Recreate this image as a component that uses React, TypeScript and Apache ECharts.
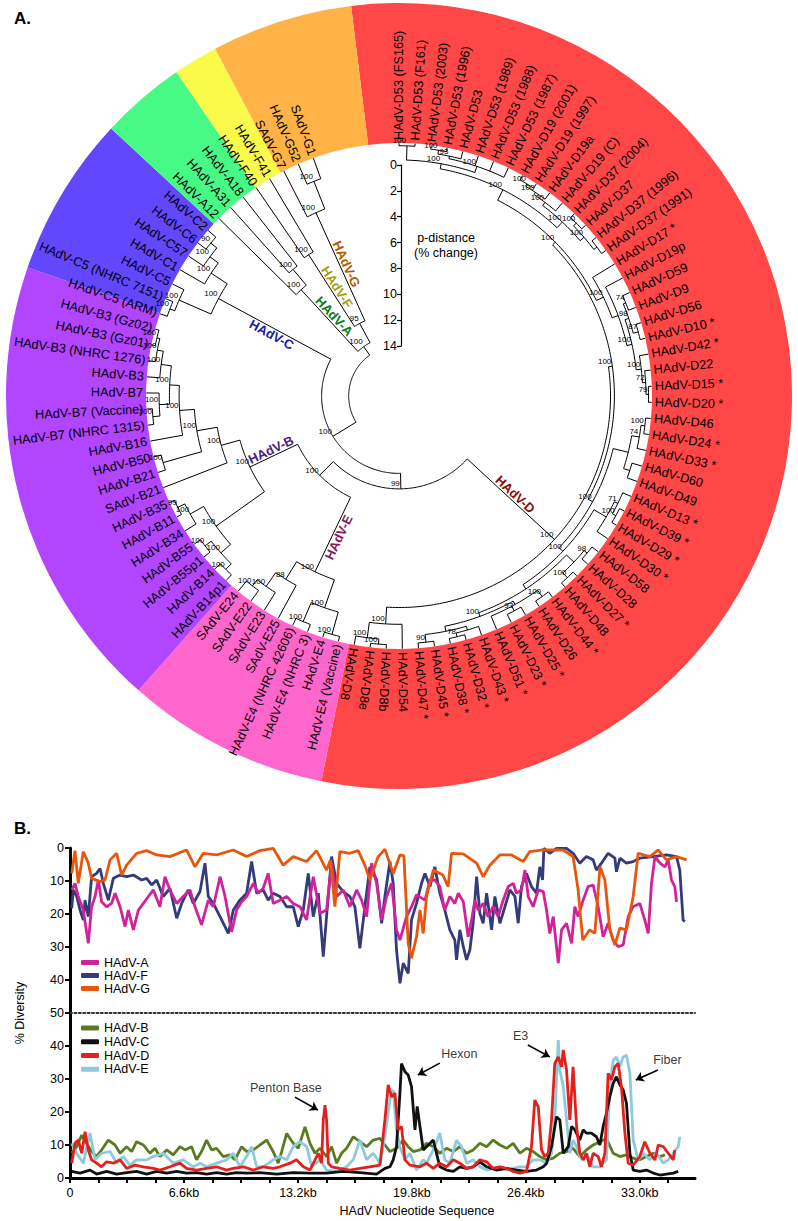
import React, { useEffect, useRef } from 'react';
import * as echarts from 'echarts';

const FONT = "'Liberation Sans', Arial, Helvetica, sans-serif";

// ================= Panel A data =================
const SECTOR_NAMES = ['Species D', 'Species E', 'Species B', 'Species C', 'Species A', 'Species F', 'Species G'];
const SECTOR_SPANS = [198.4, 30.1, 67.6, 23.8, 12.6, 6.6, 20.9]; // degrees of the coloured ring
const SECTOR_COLORS = ['#FF4747', '#FF66CC', '#B245FF', '#6347FF', '#47FA86', '#FAFA4A', '#FFB347'];
const SECTOR_START = 97;

const LEAF_ARC = 340.2; // degrees covered by the 94 tips
const TIP = 19.6;       // tip radius (p-distance units from centre)
const LABEL_R = 19.85;
const R_MAX = 30.47;

const SCALE_TICKS_MAX = 14;

type Tree = { h: number; b: number | null; kids: (Tree | string)[]; clade?: string };
const T = (h: number, b: number | null, kids: (Tree | string)[], clade?: string): Tree => ({ h, b, kids, clade });

const D_UPPER = T(17.0, 100, [
  T(17.9, 100, [
    T(18.3, 100, [
      T(19.4, 100, ['HAdV-D53 (FS165)', 'HAdV-D53 (F161)']),
      T(18.8, 100, [
        T(19.0, 93, [T(19.3, 100, ['HAdV-D53 (2003)', 'HAdV-D53 (1996)']), 'HAdV-D53']),
        'HAdV-D53 (1989)', 'HAdV-D53 (1988)', 'HAdV-D53 (1987)',
      ]),
    ]),
    T(18.5, 100, [
      T(18.8, 100, [T(19.0, 100, [T(19.2, 100, ['HAdV-D19 (2001)', 'HAdV-D19 (1997)']), 'HAdV-D19a']), 'HAdV-D19 (C)']),
      T(18.9, 100, [T(19.2, 100, ['HAdV-D37 (2004)', 'HAdV-D37']), T(19.2, null, ['HAdV-D37 (1996)', 'HAdV-D37 (1991)'])]),
    ]),
  ]),
  T(17.6, 100, ['HAdV-D17 *', T(18.1, null, ['HAdV-D19p',
    T(18.5, 100, [
      T(18.8, 98, [T(19.0, 74, ['HAdV-D59', 'HAdV-D9']), T(19.2, 87, ['HAdV-D56', 'HAdV-D10 *'])]),
      T(18.9, 100, ['HAdV-D42 *', T(19.15, 72, ['HAdV-D22', T(19.35, 79, ['HAdV-D15 *', 'HAdV-D20 *'])])]),
    ]),
  ])]),
]);

const D_LOWER = T(17.1, 100, [
  T(18.3, null, [
    T(18.9, 74, [T(19.2, 100, ['HAdV-D46', 'HAdV-D24 *']), 'HAdV-D33 *']),
    T(18.8, null, ['HAdV-D60', 'HAdV-D49']),
  ]),
  T(17.5, 100, [
    T(18.6, null, [T(18.9, 71, ['HAdV-D13 *', T(19.2, 100, ['HAdV-D39 *', 'HAdV-D29 *'])]), 'HAdV-D30 *']),
    T(17.9, null, [
      T(18.7, null, [T(19.0, 98, ['HAdV-D58', 'HAdV-D28']), T(19.2, 100, ['HAdV-D27 *', 'HAdV-D48'])]),
      T(18.2, 100, [
        T(18.5, null, [T(19.1, 100, ['HAdV-D44 *', 'HAdV-D26']), T(18.9, 93, ['HAdV-D25 *', 'HAdV-D23 *']), 'HAdV-D51 *']),
        T(18.6, null, [T(18.9, null, ['HAdV-D43 *', T(19.2, 78, ['HAdV-D32 *', 'HAdV-D38 *'])]), T(19.2, 90, ['HAdV-D45 *', 'HAdV-D47 *'])]),
      ]),
    ]),
  ]),
]);

const D_8 = T(17.7, 100, ['HAdV-D54', T(18.9, 100, [T(19.3, 100, ['HAdV-D8b', 'HAdV-D8e']), 'HAdV-D8'])]);
const D_TREE = T(16.4, 100, [T(16.7, 100, [D_UPPER, D_LOWER]), D_8], 'HAdV-D');

const E_TREE = T(15.1, 100, [
  T(17.4, 100, [T(19.2, 100, ['HAdV-E4 (Vaccine)', 'HAdV-E4']), T(19.0, 100, ['HAdV-E4 (NHRC 3)', 'HAdV-E4 (NHRC 42606)'])]),
  T(16.7, 88, ['SAdV-E25', T(18.0, 100, ['SAdV-E23', T(18.6, 100, ['SAdV-E22', 'SAdV-E24'])])]),
], 'HAdV-E');

const B_TREE = T(12.8, 100, [
  T(17.4, 100, [
    T(18.4, 100, [T(19.0, 100, ['HAdV-B14p1', 'HAdV-B14']), T(19.0, 100, ['HAdV-B55p1', 'HAdV-B55'])]),
    T(18.6, 100, ['HAdV-B34', T(19.2, 99, ['HAdV-B11', 'HAdV-B35'])]),
  ]),
  T(14.3, 100, ['SAdV-B21', T(15.9, 100, [
    T(19.0, 100, ['HAdV-B21', 'HAdV-B50']),
    T(17.05, 100, ['HAdV-B16', T(17.8, 100, [
      T(18.6, 100, [T(19.15, 100, ['HAdV-B7 (NHRC 1315)', 'HAdV-B7 (Vaccine)']), 'HAdV-B7']),
      T(18.6, 100, ['HAdV-B3', T(19.07, 100, ['HAdV-B3 (NHRC 1276)', T(19.3, 100, ['HAdV-B3 (Gz01)', 'HAdV-B3 (Gz02)'])])]),
    ])]),
  ])]),
], 'HAdV-B');

const C_TREE = T(15.9, 100, [
  T(18.6, 100, [T(19.0, 100, ['HAdV-C5 (ARM)', 'HAdV-C5 (NHRC 7151)']), 'HAdV-C5']),
  T(17.4, 100, ['HAdV-C1', T(18.2, 100, ['HAdV-C57', T(18.8, 90, ['HAdV-C6', 'HAdV-C2'])])]),
], 'HAdV-C');

const A_TREE = T(11.2, 100, ['HAdV-A12', T(12.8, 100, ['HAdV-A31', 'HAdV-A18'])], 'HAdV-A');
const F_TREE = T(13.0, 100, ['HAdV-F40', 'HAdV-F41'], 'HAdV-F');
const G_TREE = T(15.6, 100, ['SAdV-G7', T(17.9, 100, ['HAdV-G52', 'SAdV-G1'])], 'HAdV-G');

const ROOT = T(3.9, null, [
  T(6.0, 100, [T(7.2, 99, [D_TREE, T(8.7, 100, [E_TREE, B_TREE])]), C_TREE]),
  T(4.7, 100, [A_TREE, T(6.4, 95, [F_TREE, G_TREE])]),
]);

const CLADE_STYLE: Record<string, { color: string; side: string }> = {
  'HAdV-D': { color: '#8B0A0A', side: 'bottom' },
  'HAdV-E': { color: '#8A1A5A', side: 'top' },
  'HAdV-B': { color: '#4E1A8A', side: 'bottom' },
  'HAdV-C': { color: '#1A1AA8', side: 'top' },
  'HAdV-A': { color: '#0F7A22', side: 'bottom' },
  'HAdV-F': { color: '#A3A010', side: 'bottom' },
  'HAdV-G': { color: '#B25A00', side: 'bottom' },
};

// ================= Panel B data =================
const X_TICKS = [0, 1.65, 3.3, 4.95, 6.6, 8.25, 9.9, 11.55, 13.2, 14.85, 16.5, 18.15, 19.8, 21.45, 23.1, 24.75, 26.4, 28.05, 29.7, 31.35, 33.0, 34.65];
const X_LABEL_VALUES = [0, 6.6, 13.2, 19.8, 26.4, 33.0];
const X_LABELS = ['0', '6.6kb', '13.2kb', '19.8kb', '26.4kb', '33.0kb'];

const HADV_A = [[0.1,12.7],[0.29,10.7],[0.48,14.7],[0.77,18.8],[1.06,28.9],[1.25,17.8],[1.45,14.7],[1.64,9.7],[1.83,16.3],[2.12,17.8],[2.41,16.8],[2.61,13.7],[2.9,17.8],[3.19,23.8],[3.38,18.8],[3.67,24.8],[3.96,18.8],[4.25,16.8],[4.54,14.7],[4.83,12.7],[5.21,17.8],[5.5,8.7],[5.79,12.7],[6.18,16.8],[6.56,14.7],[6.95,12.7],[7.24,17.8],[7.62,23.3],[8.01,15.8],[8.3,17.8],[8.69,8.7],[8.98,14.7],[9.36,25.4],[9.65,18.8],[9.94,16.3],[10.23,14.7],[10.62,10.7],[10.91,13.7],[11.19,12.2],[11.48,7.7],[11.77,16.8],[12.16,15.8],[12.55,14.7],[12.93,16.8],[13.32,17.8],[13.7,21.8],[14.09,8.7],[14.48,19.8],[14.86,18.8],[15.15,4.6],[15.44,14.7],[15.83,12.7],[16.21,17.8],[16.6,12.7],[16.89,15.8],[17.18,20.8],[17.47,4.6],[17.76,10.7],[18.05,21.8],[18.34,14.7],[18.63,10.7],[18.91,24.8],[19.11,27.9],[19.49,20.8],[19.78,17.8],[20.07,14.2],[20.56,15.8],[20.85,9.7],[21.13,9.7],[21.42,11.7],[21.71,18.8],[22.0,14.7],[22.29,16.8],[22.49,13.7],[22.78,16.3],[23.06,26.9],[23.26,21.8],[23.45,15.8],[23.64,18.8],[23.93,16.8],[24.22,20.8],[24.51,17.8],[24.8,20.8],[25.09,15.8],[25.38,11.7],[25.67,10.7],[25.86,13.7],[26.15,12.7],[26.35,6.7],[26.54,14.7],[26.83,17.8],[27.12,12.7],[27.41,13.2],[27.6,18.8],[27.79,25.9],[27.99,20.8],[28.28,34.9],[28.47,24.8],[28.76,22.8],[29.05,28.9],[29.24,17.8],[29.43,20.8],[29.72,15.8],[30.01,11.7],[30.3,11.2],[30.59,17.8],[30.88,26.9],[31.17,22.8],[31.46,27.9],[31.75,29.9],[32.04,29.4],[32.33,20.8],[32.62,17.8],[33.0,16.8],[33.29,21.8],[33.49,25.9],[33.68,10.7],[33.88,2.6],[34.17,4.6],[34.46,5.7],[34.65,3.6],[34.84,9.7],[35.03,11.7],[35.13,16.3]];

const HADV_F = [[0.1,18.3],[0.19,12.7],[0.39,14.7],[0.58,18.8],[0.77,21.8],[0.87,15.8],[1.06,20.8],[1.25,8.7],[1.54,7.7],[1.74,6.2],[1.93,10.7],[2.22,15.8],[2.51,9.2],[2.9,8.2],[3.28,8.7],[3.67,8.2],[4.15,9.7],[4.44,9.2],[4.73,11.2],[5.02,9.7],[5.4,14.7],[5.79,12.2],[6.18,21.3],[6.47,16.8],[6.85,12.7],[7.14,16.8],[7.53,13.2],[7.82,4.6],[8.01,14.7],[8.3,16.8],[8.69,20.8],[9.17,25.9],[9.46,18.8],[9.84,15.8],[10.23,13.7],[10.52,4.1],[10.81,13.7],[11.19,12.7],[11.48,15.8],[11.77,13.7],[12.16,14.7],[12.55,17.8],[12.93,17.8],[13.22,23.8],[13.51,18.8],[13.8,7.7],[14.09,20.8],[14.38,13.7],[14.67,32.9],[14.86,20.8],[15.15,2.6],[15.44,10.7],[15.83,13.2],[16.21,14.7],[16.5,17.8],[16.79,30.4],[17.08,17.8],[17.37,5.7],[17.76,9.7],[18.05,22.8],[18.24,14.7],[18.53,4.1],[18.72,10.7],[18.91,30.9],[19.11,41.0],[19.3,34.9],[19.59,38.0],[19.78,21.8],[20.07,16.8],[20.36,10.7],[20.56,7.7],[20.85,11.7],[21.13,5.7],[21.42,13.7],[21.71,18.8],[22.0,24.8],[22.29,27.9],[22.39,33.9],[22.58,24.8],[22.78,29.9],[22.97,33.9],[23.16,30.9],[23.35,22.8],[23.55,8.7],[23.74,19.8],[23.93,22.8],[24.13,13.7],[24.42,24.8],[24.61,14.7],[24.9,22.8],[25.19,17.8],[25.48,12.7],[25.77,14.7],[25.96,22.8],[26.15,11.7],[26.44,7.7],[26.73,11.7],[27.02,13.7],[27.21,5.7],[27.37,9.7],[27.45,0.1],[27.79,1.6],[28.18,0.1],[28.76,0.1],[29.14,1.6],[29.53,4.6],[29.91,2.6],[30.3,3.6],[30.49,6.7],[30.78,4.6],[31.17,1.6],[31.56,3.1],[31.65,7.2],[31.85,3.1],[32.23,4.6],[32.62,4.1],[33.0,3.1],[33.78,2.6],[34.55,2.1],[35.13,2.6],[35.32,6.7],[35.51,21.8],[35.61,22.3]];

const HADV_G = [[0.1,7.7],[0.29,0.8],[0.48,10.7],[0.77,1.1],[1.06,4.6],[1.25,9.2],[1.74,10.2],[2.03,9.7],[2.32,3.6],[2.7,1.6],[2.99,8.2],[3.28,5.2],[3.86,1.6],[4.44,0.8],[5.02,2.1],[5.79,2.6],[6.75,0.6],[7.24,5.7],[7.72,1.6],[8.49,2.1],[9.46,0.6],[10.23,2.6],[11.0,0.8],[11.77,0.1],[12.35,5.2],[12.93,2.6],[13.7,4.1],[14.28,0.8],[14.86,6.7],[15.09,3.6],[15.34,17.8],[15.63,1.1],[16.21,1.6],[16.69,0.8],[17.08,5.2],[17.37,9.7],[17.85,2.6],[18.24,0.4],[18.72,7.7],[19.11,2.1],[19.34,2.4],[19.59,28.9],[19.78,33.4],[20.07,26.9],[20.27,18.8],[20.46,25.9],[20.65,14.7],[21.04,6.7],[21.6,8.2],[21.9,11.7],[22.1,1.6],[22.77,1.8],[23.55,4.6],[23.93,8.7],[24.32,5.2],[24.9,2.1],[25.57,2.1],[26.25,4.1],[26.63,1.1],[27.4,0.6],[28.56,0.6],[29.14,2.6],[29.43,12.7],[29.7,27.9],[30.1,24.8],[30.4,25.9],[30.7,5.7],[30.98,9.7],[31.27,24.8],[31.56,29.4],[31.85,24.3],[32.23,24.8],[32.62,14.7],[32.91,1.6],[33.59,2.6],[34.06,0.6],[34.55,3.6],[35.13,2.6],[35.71,3.6]];

const HADV_B = [[0.1,7.5],[0.39,9.5],[0.68,13.0],[0.96,10.5],[1.25,8.0],[1.54,6.5],[1.83,8.5],[2.22,11.5],[2.61,10.0],[2.9,7.5],[3.28,9.5],[3.57,8.0],[3.86,11.0],[4.25,10.0],[4.63,7.5],[4.92,9.0],[5.21,6.5],[5.6,8.5],[5.98,7.0],[6.37,9.5],[6.66,8.5],[7.04,9.5],[7.33,5.5],[7.62,8.0],[7.91,11.5],[8.2,8.5],[8.49,9.0],[8.88,6.5],[9.26,7.0],[9.55,5.5],[9.94,9.5],[10.23,8.0],[10.62,8.5],[11.0,10.0],[11.39,11.5],[11.77,8.0],[12.06,4.5],[12.26,8.0],[12.55,13.5],[12.93,10.5],[13.22,9.0],[13.61,15.5],[13.9,10.5],[14.19,7.5],[14.48,9.0],[14.86,6.5],[15.15,9.5],[15.44,4.5],[15.73,7.5],[16.02,9.0],[16.41,12.5],[16.79,11.0],[17.18,9.5],[17.56,11.5],[17.95,12.0],[18.24,10.0],[18.53,8.0],[18.91,9.0],[19.3,11.5],[19.59,9.5],[19.88,8.0],[20.27,8.5],[20.65,10.5],[21.04,9.5],[21.42,7.5],[21.81,9.0],[22.2,8.0],[22.58,9.5],[22.97,7.5],[23.35,8.5],[23.74,10.5],[24.13,9.5],[24.51,11.5],[24.9,10.0],[25.29,9.0],[25.67,10.5],[26.06,7.5],[26.44,9.0],[26.83,8.0],[27.21,6.5],[27.6,5.5],[27.99,6.0],[28.37,7.5],[28.76,8.0],[29.14,9.0],[29.53,6.5],[29.91,8.5],[30.3,10.0],[30.69,11.0],[31.07,12.0],[31.46,7.5],[31.85,6.5],[32.23,7.0],[32.62,6.0],[33.0,5.5],[33.39,6.5],[33.78,7.5],[34.17,6.5],[34.46,7.0]];

const HADV_C = [[0.1,2.0],[0.58,1.5],[1.16,2.4],[1.54,1.2],[2.12,2.0],[2.7,1.2],[3.28,1.6],[3.86,2.0],[4.44,1.2],[5.02,2.0],[5.6,1.5],[6.18,2.0],[6.75,1.5],[7.33,1.6],[7.91,1.2],[8.49,1.6],[9.07,1.2],[9.65,1.6],[10.23,1.5],[11.0,1.6],[11.97,1.2],[12.93,1.6],[13.9,1.5],[14.86,1.5],[15.83,2.0],[16.79,1.6],[17.76,1.2],[18.24,2.9],[18.53,3.4],[18.72,5.5],[18.91,9.5],[19.11,25.7],[19.2,34.7],[19.4,32.2],[19.59,31.2],[19.78,27.7],[19.98,14.6],[20.11,21.7],[20.27,15.6],[20.46,8.5],[20.65,9.5],[21.04,11.5],[21.42,3.4],[21.81,2.4],[22.2,2.0],[22.58,3.4],[22.97,2.9],[23.35,3.4],[23.74,4.9],[24.13,3.4],[24.71,2.4],[25.29,2.9],[25.87,2.4],[26.44,2.0],[27.02,2.4],[27.41,3.4],[27.6,4.4],[27.89,9.5],[28.18,18.6],[28.37,17.6],[28.57,7.5],[28.86,9.5],[29.05,15.6],[29.24,14.6],[29.53,11.5],[29.72,14.6],[29.91,13.6],[30.2,13.6],[30.49,12.5],[30.69,10.0],[30.88,15.6],[31.07,19.6],[31.27,24.7],[31.46,28.7],[31.65,30.7],[31.85,28.2],[32.04,26.7],[32.23,22.6],[32.43,7.5],[32.62,2.4],[33.0,2.0],[33.39,2.4],[33.78,1.5],[34.17,0.9],[34.55,1.2],[34.94,1.5],[35.23,2.0]];

const HADV_D = [[0.1,4.5],[0.29,10.5],[0.48,11.5],[0.68,7.5],[0.87,14.0],[1.06,8.5],[1.25,5.5],[1.54,4.5],[1.83,3.4],[2.12,4.9],[2.51,4.5],[2.9,5.5],[3.28,2.9],[3.76,3.9],[4.25,3.4],[4.83,2.9],[5.21,2.4],[5.79,3.4],[6.37,4.5],[6.75,2.9],[7.33,2.4],[7.91,2.9],[8.49,3.4],[9.07,2.4],[9.46,2.9],[10.04,3.4],[10.62,2.4],[11.19,3.4],[11.77,2.9],[12.16,3.4],[12.74,4.5],[13.12,5.5],[13.51,3.4],[13.9,2.4],[14.19,5.5],[14.38,7.5],[14.57,4.5],[14.67,17.6],[14.77,22.1],[14.86,17.6],[14.96,4.5],[15.15,3.4],[15.63,2.9],[16.21,2.4],[16.79,2.9],[17.37,3.4],[17.95,3.9],[18.24,17.6],[18.43,28.2],[18.63,24.6],[18.82,25.7],[19.01,14.6],[19.2,15.6],[19.4,5.5],[19.69,3.9],[20.27,3.4],[20.65,4.5],[21.04,2.9],[21.42,4.5],[21.81,3.4],[22.2,5.5],[22.58,4.5],[22.97,2.9],[23.35,3.4],[23.74,5.5],[24.13,4.9],[24.51,2.9],[24.9,3.4],[25.29,2.9],[25.67,2.0],[26.06,1.5],[26.44,2.0],[26.73,9.5],[26.92,23.6],[27.12,21.6],[27.31,8.5],[27.5,6.5],[27.7,7.5],[27.89,17.6],[28.08,34.7],[28.28,36.7],[28.47,33.7],[28.57,38.8],[28.76,32.7],[28.95,17.6],[29.14,33.7],[29.34,15.6],[29.53,7.5],[29.72,5.5],[29.91,7.5],[30.11,3.4],[30.3,7.5],[30.59,6.5],[30.78,3.4],[30.98,7.5],[31.17,31.7],[31.36,29.7],[31.56,33.7],[31.75,34.7],[31.94,27.7],[32.14,13.6],[32.33,4.5],[32.62,3.9],[33.0,6.5],[33.29,11.0],[33.59,7.5],[33.88,5.5],[34.07,10.0],[34.36,9.5],[34.65,7.5],[34.94,5.5],[35.03,8.5]];

const HADV_E = [[0.1,10.5],[0.39,7.5],[0.77,4.5],[1.16,13.6],[1.45,5.5],[1.83,7.5],[2.32,8.0],[2.7,4.5],[3.09,6.5],[3.47,3.9],[3.86,5.5],[4.44,5.5],[4.83,6.5],[5.4,7.5],[5.98,4.5],[6.56,5.5],[7.14,3.4],[7.53,4.5],[7.91,3.4],[8.49,4.5],[9.07,5.5],[9.46,7.5],[9.84,3.4],[10.23,6.5],[10.52,9.5],[10.81,3.4],[11.19,3.4],[11.77,5.5],[12.16,6.5],[12.55,5.5],[12.93,9.5],[13.32,11.0],[13.71,9.5],[14.0,3.4],[14.48,5.5],[14.86,2.4],[15.44,2.0],[16.02,3.4],[16.41,5.5],[16.79,11.5],[17.18,5.5],[17.56,7.5],[17.95,4.5],[18.24,12.5],[18.53,23.6],[18.72,26.7],[18.91,14.6],[19.11,9.5],[19.4,5.5],[19.69,7.5],[20.07,2.4],[20.46,5.5],[20.65,4.5],[21.04,8.5],[21.42,13.6],[21.71,5.5],[22.0,4.5],[22.39,11.5],[22.68,9.5],[22.97,4.5],[23.35,5.5],[23.74,3.4],[24.13,2.4],[24.51,2.9],[24.9,3.4],[25.29,2.4],[25.67,2.9],[26.06,3.4],[26.44,3.4],[26.83,5.5],[27.21,5.5],[27.6,4.5],[27.89,7.5],[28.08,17.6],[28.28,41.8],[28.37,32.7],[28.57,27.7],[28.76,17.6],[28.95,7.5],[29.14,11.5],[29.34,9.5],[29.53,6.5],[29.72,5.5],[29.91,7.5],[30.11,5.5],[30.3,3.4],[30.69,3.4],[31.07,5.5],[31.27,27.7],[31.46,35.7],[31.65,36.7],[31.85,33.7],[32.04,36.7],[32.23,37.2],[32.43,31.7],[32.62,11.5],[32.91,5.5],[33.2,7.5],[33.59,5.5],[33.97,7.5],[34.36,4.5],[34.65,5.5],[34.94,7.5],[35.23,9.5],[35.32,12.5]];

const ANNOTATION_TEXTS = ['Penton Base', 'Hexon', 'E3', 'Fiber'];
const ANNOTATION_TEXT_POS = [[12.5, 27.3], [22.55, 37.6], [26.1, 42.9], [34.6, 35.8]];
const ANNOTATION_ARROWS = [
  [[13.03, 24.5], [14.36, 20.6]],
  [[21.42, 34.8], [20.15, 31.2]],
  [[26.52, 40.3], [27.79, 36.7]],
  [[34.05, 32.7], [32.77, 29.7]],
];

// ================= tree layout =================
type Seg = { kind: string; r1?: number; r2?: number; r?: number; a?: number; a1?: number; a2?: number };

function countLeaves(n: Tree | string): number {
  return typeof n === 'string' ? 1 : n.kids.reduce((s, k) => s + countLeaves(k), 0);
}

function layoutTree(root: Tree) {
  const leaves: { name: string; a: number }[] = [];
  const segs: Seg[] = [];
  const boots: { r: number; a: number; b: number }[] = [];
  const clades: { r1: number; r2: number; a: number; name: string }[] = [];
  const total = countLeaves(root);
  const step = LEAF_ARC / (total - 1);
  let count = 0;
  const walk = (n: Tree | string, parentH: number | null): number => {
    if (typeof n === 'string') {
      const a = count++ * step;
      leaves.push({ name: n, a });
      segs.push({ kind: 'radial', r1: parentH as number, r2: TIP, a });
      return a;
    }
    const as = n.kids.map((k) => walk(k, n.h));
    const a1 = Math.min(...as);
    const a2 = Math.max(...as);
    const a = (a1 + a2) / 2;
    segs.push({ kind: 'arc', r: n.h, a1, a2 });
    if (parentH !== null) segs.push({ kind: 'radial', r1: parentH, r2: n.h, a });
    if (n.b !== null) boots.push({ r: n.h, a, b: n.b });
    if (n.clade && parentH !== null) clades.push({ r1: parentH, r2: n.h, a, name: n.clade });
    return a;
  };
  walk(root, null);
  return { leaves, segs, boots, clades };
}

const LAYOUT = layoutTree(ROOT);
const OUTWARD_LIMIT = 192;

function buildOption() {
  const deg = Math.PI / 180;
  const lineSeries = (name: string, data: number[][], color: string, grid: number, width = 2.8) => ({
    type: 'line', name, data, xAxisIndex: grid, yAxisIndex: grid, showSymbol: false, symbol: 'none',
    lineStyle: { color, width }, itemStyle: { color }, silent: true,
  });
  const yAxisCommon = {
    type: 'value', min: 0, max: 50, interval: 10,
    axisLine: { show: true, onZero: false, lineStyle: { color: '#000', width: 3 } },
    axisTick: { show: true, length: 5, lineStyle: { color: '#000', width: 2 } },
    axisLabel: { fontSize: 12.5, color: '#000', margin: 6, fontFamily: FONT },
    splitLine: { show: false },
  };

  return {
    animation: false,
    textStyle: { fontFamily: FONT },
    polar: { center: [399, 396], radius: 393 },
    angleAxis: { type: 'value', min: 0, max: 360, startAngle: 90, clockwise: true, show: false },
    radiusAxis: { type: 'value', min: 0, max: R_MAX, show: false },
    grid: [
      { left: 70, top: 848, width: 625, height: 165 },
      { left: 70, top: 1013, width: 625, height: 165 },
      { left: 401, top: 165, width: 20, height: 181 },
    ],
    xAxis: [
      {
        gridIndex: 0, type: 'value', min: 0, max: 36.2, position: 'bottom',
        axisLine: { show: true, onZero: false, lineStyle: { color: '#333', width: 2, type: [2, 2.4] } },
        axisTick: { show: false }, axisLabel: { show: false }, splitLine: { show: false },
      },
      {
        gridIndex: 1, type: 'value', min: 0, max: 36.2, position: 'bottom',
        axisLine: { show: true, onZero: false, lineStyle: { color: '#000', width: 3 } },
        axisTick: { show: true, customValues: X_TICKS, length: 5, lineStyle: { color: '#000', width: 2 } },
        axisLabel: {
          customValues: X_LABEL_VALUES, fontSize: 12.5, color: '#000', margin: 8, fontFamily: FONT,
          formatter: (v: number) => {
            const i = X_LABEL_VALUES.findIndex((x) => Math.abs(x - v) < 1e-6);
            return i >= 0 ? X_LABELS[i] : '';
          },
        },
        splitLine: { show: false },
      },
      { gridIndex: 2, type: 'value', min: 0, max: 1, show: false },
    ],
    yAxis: [
      { ...yAxisCommon, gridIndex: 0, inverse: true },
      {
        ...yAxisCommon, gridIndex: 1,
        axisLabel: { ...yAxisCommon.axisLabel, formatter: (v: number) => (v === 50 ? '' : String(v)) },
      },
      {
        gridIndex: 2, type: 'value', inverse: true, min: 0, max: SCALE_TICKS_MAX, interval: 2,
        axisLine: { show: true, onZero: false, lineStyle: { color: '#000', width: 1.2 } },
        axisTick: { show: true, length: 4, lineStyle: { color: '#000', width: 1.2 } },
        axisLabel: { fontSize: 12.5, color: '#000', margin: 4, fontFamily: FONT },
        splitLine: { show: false },
      },
    ],
    legend: [
      {
        data: ['HAdV-A', 'HAdV-F', 'HAdV-G'], orient: 'vertical', left: 81, top: 956, padding: 0,
        itemWidth: 18, itemHeight: 5, itemGap: 0, icon: 'roundRect', selectedMode: false,
        textStyle: { fontSize: 12.5, color: '#000', lineHeight: 13, fontFamily: FONT },
      },
      {
        data: ['HAdV-B', 'HAdV-C', 'HAdV-D', 'HAdV-E'], orient: 'vertical', left: 81, top: 1021, padding: 0,
        itemWidth: 18, itemHeight: 5, itemGap: 0, icon: 'roundRect', selectedMode: false,
        textStyle: { fontSize: 12.5, color: '#000', lineHeight: 13.8, fontFamily: FONT },
      },
    ],
    graphic: [
      { type: 'text', left: 14, top: 10, style: { text: 'A.', fontSize: 17, fontWeight: 'bold', fill: '#000', fontFamily: FONT } },
      { type: 'text', left: 14, top: 820, style: { text: 'B.', fontSize: 17, fontWeight: 'bold', fill: '#000', fontFamily: FONT } },
      {
        type: 'text', x: 446, y: 238,
        style: { text: 'p-distance', fontSize: 12.5, fill: '#000', fontFamily: FONT, align: 'center', verticalAlign: 'middle', textAlign: 'center', textVerticalAlign: 'middle' },
      },
      {
        type: 'text', x: 446, y: 253,
        style: { text: '(% change)', fontSize: 12.5, fill: '#000', fontFamily: FONT, align: 'center', verticalAlign: 'middle', textAlign: 'center', textVerticalAlign: 'middle' },
      },
      {
        type: 'text', x: 20, y: 1013, rotation: Math.PI / 2,
        style: { text: '% Diversity', fontSize: 12.5, fill: '#000', fontFamily: FONT, align: 'center', verticalAlign: 'middle', textAlign: 'center', textVerticalAlign: 'middle' },
      },
      {
        type: 'text', x: 417, y: 1211,
        style: { text: 'HAdV Nucleotide Sequence', fontSize: 12.5, fill: '#000', fontFamily: FONT, align: 'center', verticalAlign: 'middle', textAlign: 'center', textVerticalAlign: 'middle' },
      },
    ],
    series: [
      {
        type: 'pie', name: 'species', center: [399, 396], radius: [253, 393],
        startAngle: SECTOR_START, clockwise: true, silent: true, z: 1,
        label: { show: false }, labelLine: { show: false }, emphasis: { disabled: true },
        itemStyle: { borderWidth: 0 },
        data: SECTOR_SPANS.map((v, i) => ({ name: SECTOR_NAMES[i], value: v, itemStyle: { color: SECTOR_COLORS[i] } })),
      },
      {
        type: 'custom', name: 'tree', coordinateSystem: 'polar', silent: true, clip: false, z: 3,
        data: LAYOUT.segs.map((s) => (s.kind === 'radial' ? [s.r2, s.a] : [s.r, s.a1])),
        renderItem: (params: any, api: any) => {
          const s = LAYOUT.segs[params.dataIndex];
          if (s.kind === 'radial') {
            const p1 = api.coord([s.r1, s.a]);
            const p2 = api.coord([s.r2, s.a]);
            return { type: 'line', shape: { x1: p1[0], y1: p1[1], x2: p2[0], y2: p2[1] }, style: { stroke: '#000', lineWidth: 1 } };
          }
          const a1 = s.a1 as number;
          const a2 = s.a2 as number;
          const n = Math.max(2, Math.ceil((a2 - a1) / 0.8) + 1);
          const pts = [];
          for (let i = 0; i < n; i++) pts.push(api.coord([s.r, a1 + ((a2 - a1) * i) / (n - 1)]));
          return { type: 'polyline', shape: { points: pts }, style: { stroke: '#000', fill: null, lineWidth: 1 } };
        },
      },
      {
        type: 'custom', name: 'tips', coordinateSystem: 'polar', silent: true, clip: false, z: 4,
        data: LAYOUT.leaves.map((l) => [LABEL_R, l.a]),
        renderItem: (params: any, api: any) => {
          const l = LAYOUT.leaves[params.dataIndex];
          const p = api.coord([LABEL_R, l.a]);
          const out = l.a < OUTWARD_LIMIT;
          const rot = ((out ? 90 : 270) - l.a) * deg;
          return {
            type: 'text', x: p[0], y: p[1], rotation: rot,
            style: { text: l.name, fontSize: 12.7, fontFamily: FONT, fill: '#000', align: out ? 'left' : 'right', verticalAlign: 'middle' },
          };
        },
      },
      {
        type: 'custom', name: 'bootstrap', coordinateSystem: 'polar', silent: true, clip: false, z: 4,
        data: LAYOUT.boots.map((b) => [b.r, b.a]),
        renderItem: (params: any, api: any) => {
          const b = LAYOUT.boots[params.dataIndex];
          const p = api.coord([b.r, b.a]);
          return {
            type: 'text', x: p[0] - 1, y: p[1] - 1,
            style: { text: String(b.b), fontSize: 8, fontFamily: FONT, fill: '#000', align: 'right', verticalAlign: 'bottom' },
          };
        },
      },
      {
        type: 'custom', name: 'clades', coordinateSystem: 'polar', silent: true, clip: false, z: 4,
        data: LAYOUT.clades.map((c) => [(c.r1 + c.r2) / 2, c.a]),
        renderItem: (params: any, api: any) => {
          const c = LAYOUT.clades[params.dataIndex];
          const st = CLADE_STYLE[c.name];
          const p = api.coord([(c.r1 + c.r2) / 2, c.a]);
          const out = c.a < OUTWARD_LIMIT;
          const rot = ((out ? 90 : 270) - c.a) * deg;
          return {
            type: 'text', x: p[0], y: p[1], rotation: rot,
            style: { text: c.name, fontSize: 13, fontWeight: 'bold', fontFamily: FONT, fill: st.color, align: 'center', verticalAlign: st.side },
          };
        },
      },
      lineSeries('HAdV-F', HADV_F, '#343B7A', 0),
      lineSeries('HAdV-A', HADV_A, '#D0229A', 0),
      lineSeries('HAdV-G', HADV_G, '#E8560C', 0),
      lineSeries('HAdV-B', HADV_B, '#5B7B1E', 1),
      lineSeries('HAdV-E', HADV_E, '#8DCADD', 1),
      lineSeries('HAdV-C', HADV_C, '#111111', 1),
      lineSeries('HAdV-D', HADV_D, '#E3201B', 1),
      {
        type: 'scatter', name: 'annotations', xAxisIndex: 1, yAxisIndex: 1, silent: true, z: 6,
        symbolSize: 1, itemStyle: { color: 'rgba(0,0,0,0)' },
        data: ANNOTATION_TEXTS.map((t, i) => ({ name: t, value: ANNOTATION_TEXT_POS[i] })),
        label: { show: true, position: 'inside', formatter: '{b}', fontSize: 12.5, color: '#000', fontFamily: FONT },
        markLine: {
          silent: true, symbol: ['none', 'arrow'], symbolSize: 8, label: { show: false },
          lineStyle: { color: '#000', width: 1.6, type: 'solid' },
          data: ANNOTATION_ARROWS.map(([a, b]) => [{ coord: a }, { coord: b }]),
        },
      },
    ],
  };
}

export default function App() {
  const ref = useRef<HTMLDivElement>(null);
  useEffect(() => {
    document.body.style.margin = '0';
    const chart = echarts.init(ref.current as HTMLDivElement, undefined, { renderer: 'svg', width: 798, height: 1221 });
    chart.setOption(buildOption() as any);
    return () => chart.dispose();
  }, []);
  return <div ref={ref} style={{ width: 798, height: 1221 }} />;
}
